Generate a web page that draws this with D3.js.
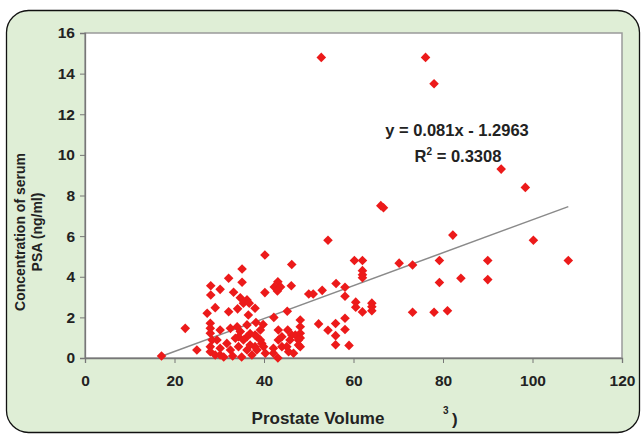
<!DOCTYPE html>
<html>
<head>
<meta charset="utf-8">
<script src="https://cdn.jsdelivr.net/npm/d3@7"></script>
<style>
  body { margin: 0; background: #fff; }
  svg text { font-family: Arial, "Liberation Sans", sans-serif; font-weight: bold; fill: #222; }
</style>
</head>
<body>
<svg id="chart" width="641" height="437"></svg>
<script>
// prostate volume (x) vs serum PSA (y)
var volume = [52.8,76.1,78,93,98.4,66.1,66.7,82.2,100.2,54.3,108,40.2,46.2,
  60.2,62,70.2,73.2,79.2,90,62,62,62,84,90,79.2,56.1,58.1,58.1,53,50,51,60.5,60.5,62,64.1,64.1,64.1,73.2,78,81,58.1,56,52.2,54.3,58.1,56,56,59,48.1,48.1,48.1,48.1,48.1,
  35.1,32.1,35.1,43.1,42.3,43.7,43,46.1,28.1,30.2,28.1,33.2,40.2,34.7,36.2,35.4,36.7,29.1,38,32.1,34.1,27.3,36.5,45.2,42.2,
  28,28,28,22.4,30.2,32.5,34,36.2,38.2,39.8,39.2,43.2,45.3,34.7,36.9,38.4,36.2,34.3,29.5,28.4,44,46.2,47,47.7,47.7,43.2,44,45.5,43.1,38,38,39.5,40.3,42.1,42.1,25,17.1,28,28,29.1,30.2,30.2,31.7,32.5,33.6,34.3,35.4,36.2,36.9,37.3,38.4,39.2,39.9,45.1,45.8,46.6,33,35,31];
var psa = [14.8,14.8,13.5,9.3,8.4,7.5,7.4,6.05,5.8,5.8,4.8,5.07,4.6,
  4.8,4.8,4.67,4.58,4.8,4.8,4.3,4.1,3.95,3.93,3.86,3.72,3.67,3.48,3.04,3.33,3.15,3.15,2.75,2.5,2.27,2.7,2.52,2.33,2.25,2.25,2.33,1.96,1.7,1.68,1.37,1.4,1.1,0.65,0.62,1.87,1.54,1.22,0.99,0.56,
  4.38,3.93,3.73,3.75,3.5,3.5,3.3,3.56,3.56,3.38,3.1,3.24,3.22,2.97,2.86,2.7,2.7,2.48,2.45,2.28,2.42,2.2,2.12,2.3,2.0,
  1.71,1.46,1.22,1.46,1.38,1.46,1.54,1.63,1.75,1.65,1.38,1.38,1.38,1.3,1.2,1.05,1.05,1.05,0.89,0.89,1.05,1.13,1.13,0.89,0.64,0.89,0.56,0.31,0,1.13,0.56,0.72,0.23,0.48,0.23,0.39,0.1,0.56,0.31,0.15,0.48,0.15,0.72,0.39,0.97,0.56,0.89,0.39,0.64,0.15,0.39,0.89,0.56,0.56,0.89,0.23,0.1,0.05,0.05];
var xTicks = [0,20,40,60,80,100,120];
var yTicks = [0,2,4,6,8,10,12,14,16];
var slope = 0.081, intercept = -1.2963;
var eqText = "y = 0.081x - 1.2963";
var r2Text = "0.3308";

function draw() {
  var svg = d3.select("#chart");

  // green rounded frame
  svg.append("rect")
    .attr("x", 6.5).attr("y", 10.5)
    .attr("width", 633).attr("height", 422)
    .attr("rx", 22).attr("ry", 22)
    .attr("fill", "#dfeed6")
    .attr("stroke", "#111").attr("stroke-width", 1.3);

  var pl = 85, pr = 622, pt = 33, pb = 358;
  var x = d3.scaleLinear().domain([0, 120]).range([pl, pr]);
  var y = d3.scaleLinear().domain([0, 16]).range([pb, pt]);

  svg.append("rect")
    .attr("x", pl).attr("y", pt)
    .attr("width", pr - pl).attr("height", pb - pt)
    .attr("fill", "#fff")
    .attr("stroke", "#9a9a9a").attr("stroke-width", 1.5);

  var xAxis = svg.append("g")
    .attr("transform", "translate(0," + pb + ")")
    .call(d3.axisBottom(x).tickValues(xTicks).tickSize(5).tickPadding(12));
  var yAxis = svg.append("g")
    .attr("transform", "translate(" + pl + ",0)")
    .call(d3.axisLeft(y).tickValues(yTicks).tickSize(5).tickPadding(5));
  [xAxis, yAxis].forEach(function (g) {
    g.selectAll("path").attr("stroke", "#777").attr("stroke-width", 1.3);
    g.selectAll("line").attr("stroke", "#777");
    g.selectAll("text").style("font-size", "15.5px").style("font-weight", "bold").attr("fill", "#222");
  });

  // trend line over data range
  var xmin = d3.min(volume), xmax = d3.max(volume);
  svg.append("line")
    .attr("x1", x(xmin)).attr("y1", y(slope * xmin + intercept))
    .attr("x2", x(xmax)).attr("y2", y(slope * xmax + intercept))
    .attr("stroke", "#8a8a8a").attr("stroke-width", 1.5);

  var diamond = d3.symbol().type(d3.symbolSquare).size(46);
  svg.append("g").selectAll("path")
    .data(volume)
    .enter()
    .append("path")
    .attr("d", diamond)
    .attr("transform", function (d, i) {
      return "translate(" + x(d) + "," + y(psa[i]) + ") rotate(45)";
    })
    .attr("fill", "#ec1a1a");

  // equation
  svg.append("text").attr("x", 457).attr("y", 136)
    .attr("text-anchor", "middle").style("font-size", "16.5px").text(eqText);
  var r2 = svg.append("text").attr("x", 458).attr("y", 162)
    .attr("text-anchor", "middle").style("font-size", "16.5px");
  r2.append("tspan").text("R");
  r2.append("tspan").attr("dy", -7).style("font-size", "10px").text("2");
  r2.append("tspan").attr("dy", 7).text(" = " + r2Text);

  // axis titles
  svg.append("text").attr("x", 318).attr("y", 424)
    .attr("text-anchor", "middle").style("font-size", "17px").text("Prostate Volume");
  svg.append("text").attr("x", 443).attr("y", 414)
    .style("font-size", "10px").text("3");
  svg.append("text").attr("x", 452).attr("y", 425)
    .style("font-size", "17px").text(")");

  var yt = svg.append("text")
    .attr("transform", "translate(25,232) rotate(-90)")
    .attr("text-anchor", "middle").style("font-size", "14px");
  yt.append("tspan").attr("x", 0).attr("dy", 0).text("Concentration of serum");
  yt.append("tspan").attr("x", 0).attr("dy", 17).text("PSA (ng/ml)");
}
draw();
</script>
</body>
</html>
